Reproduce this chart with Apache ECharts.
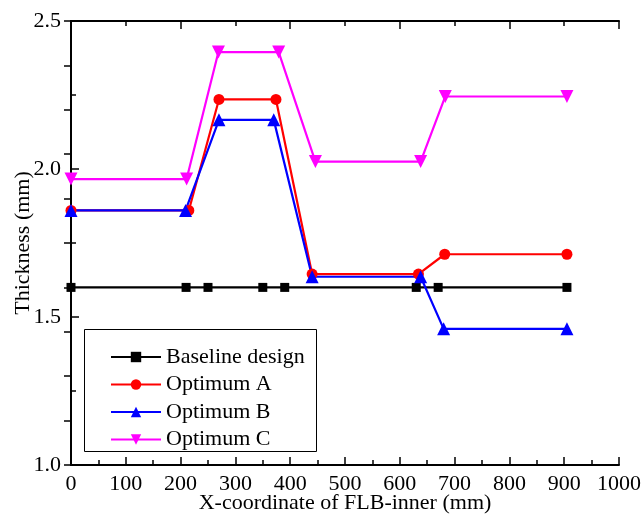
<!DOCTYPE html>
<html>
<head>
<meta charset="utf-8">
<script src="https://cdn.jsdelivr.net/npm/echarts@6/dist/echarts.min.js"></script>
<style>
  html, body { margin: 0; padding: 0; background: #fff; }
  #chart { width: 643px; height: 516px; }
</style>
</head>
<body>
<div id="chart"></div>
<script>
// Thickness profiles along the FLB-inner part
const baselineX = [0, 210, 250, 350, 390, 630, 670, 905];
const baselineY = [1.60, 1.60, 1.60, 1.60, 1.60, 1.60, 1.60, 1.60];

const optAX = [0, 215, 270, 374, 440, 634, 682, 905];
const optAY = [1.86, 1.86, 2.235, 2.235, 1.645, 1.645, 1.712, 1.712];

const optBX = [0, 209, 270, 370, 440, 638, 680, 905];
const optBY = [1.86, 1.86, 2.166, 2.166, 1.636, 1.636, 1.46, 1.46];

const optCX = [0, 211, 269, 379, 446, 638, 683, 905];
const optCY = [1.966, 1.966, 2.395, 2.395, 2.025, 2.025, 2.245, 2.245];

const seriesNames = ['Baseline design', 'Optimum A', 'Optimum B', 'Optimum C'];
const xTitle = 'X-coordinate of FLB-inner (mm)';
const yTitle = 'Thickness (mm)';

const zip = (xs, ys) => xs.map((x, i) => [x, ys[i]]);

const FONT = '"Liberation Serif", "Times New Roman", serif';
const FS = 22;
const axisLine = { show: true, lineStyle: { color: '#000', width: 2 } };

const chart = echarts.init(document.getElementById('chart'), null, { renderer: 'canvas' });

function lineSeries(name, data, color, symbol, size, rotate) {
  return {
    name, type: 'line', data, xAxisIndex: 0, yAxisIndex: 0,
    symbol, symbolSize: size, symbolRotate: rotate || 0, showAllSymbol: true,
    lineStyle: { color, width: 2.2 },
    itemStyle: { color },
    clip: true, animation: false
  };
}

chart.setOption({
  animation: false,
  grid: { left: 71, right: 24, top: 21, bottom: 51, containLabel: false, outerBoundsMode: 'none' },
  graphic: [{
    type: 'rect', left: 84, top: 329, z: 0,
    shape: { width: 232, height: 122 },
    style: { fill: '#fff', stroke: '#000', lineWidth: 1 }
  }],
  legend: {
    orient: 'vertical', left: 110, top: 346, padding: 0,
    itemWidth: 50, itemHeight: 13, itemGap: 5.5,
    textStyle: { fontFamily: FONT, fontSize: FS, color: '#000', lineHeight: 22 },
    data: seriesNames
  },
  xAxis: [{
    type: 'value', position: 'bottom', min: 0, max: 1000, interval: 100,
    name: xTitle, nameLocation: 'middle', nameGap: 27, nameMoveOverlap: false,
    nameTextStyle: { fontFamily: FONT, fontSize: FS, color: '#000' },
    axisLine,
    axisTick: { inside: true, length: 8, lineStyle: { color: '#000', width: 1.5 } },
    minorTick: { show: true, splitNumber: 2, length: 5, lineStyle: { color: '#000', width: 1.5 } },
    axisLabel: { fontFamily: FONT, fontSize: FS, color: '#000', margin: 8,
      formatter: v => String(v) },
    splitLine: { show: false }
  }, {
    type: 'value', position: 'top', min: 0, max: 1000, interval: 200,
    axisLine,
    axisTick: { inside: true, length: 8, lineStyle: { color: '#000', width: 1.5 } },
    minorTick: { show: true, splitNumber: 2, length: 5, lineStyle: { color: '#000', width: 1.5 } },
    axisLabel: { show: false },
    splitLine: { show: false }
  }],
  yAxis: [{
    type: 'value', position: 'left', min: 1.0, max: 2.5, interval: 0.5,
    name: yTitle, nameLocation: 'middle', nameGap: 37, nameMoveOverlap: false,
    nameTextStyle: { fontFamily: FONT, fontSize: FS, color: '#000' },
    axisLine,
    axisTick: { inside: true, length: 8, lineStyle: { color: '#000', width: 1.5 } },
    minorTick: { show: true, splitNumber: 2, length: 5, lineStyle: { color: '#000', width: 1.5 } },
    axisLabel: { fontFamily: FONT, fontSize: FS, color: '#000', margin: 10,
      formatter: v => v.toFixed(1) },
    splitLine: { show: false }
  }, {
    type: 'value', position: 'right', min: 0, max: 10, interval: 1,
    axisLine,
    axisTick: { inside: true, length: 7, lineStyle: { color: '#000', width: 1.5 } },
    axisLabel: { show: false },
    splitLine: { show: false }
  }],
  series: [
    lineSeries(seriesNames[0], zip(baselineX, baselineY), '#000000', 'rect', 9),
    lineSeries(seriesNames[1], zip(optAX, optAY), '#ff0000', 'circle', 11),
    lineSeries(seriesNames[2], zip(optBX, optBY), '#0000ff', 'triangle', 13),
    lineSeries(seriesNames[3], zip(optCX, optCY), '#ff00ff', 'triangle', 13, 180)
  ]
});
</script>
</body>
</html>
